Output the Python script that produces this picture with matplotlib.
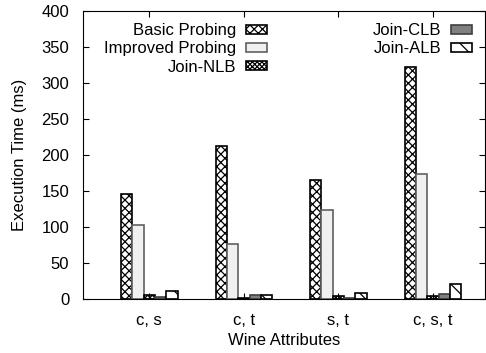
import matplotlib.pyplot as plt
import numpy as np
from matplotlib.patches import Patch

groups = ['c, s', 'c, t', 's, t', 'c, s, t']
basic = [146, 212, 165, 322]
improved = [103, 77, 123, 173]
nlb = [6, 2, 4, 4]
clb = [3, 6, 2, 7]
alb = [11, 6, 9, 21]

plt.rcParams['font.family'] = 'Liberation Sans'
plt.rcParams['font.size'] = 12
plt.rcParams['hatch.linewidth'] = 0.9

fig = plt.figure(figsize=(4.86, 3.53), dpi=100)
ax = fig.add_axes([0.171, 0.153, 0.827, 0.816])

x = np.arange(len(groups))
w = 0.12
styles = [
    ('Basic Probing', basic, dict(facecolor='white', edgecolor='black', hatch='xxxx')),
    ('Improved Probing', improved, dict(facecolor='#f0f0f0', edgecolor='#606060')),
    ('Join-NLB', nlb, dict(facecolor='white', edgecolor='black', hatch='xxxxxxx')),
    ('Join-CLB', clb, dict(facecolor='#808080', edgecolor='#404040')),
    ('Join-ALB', alb, dict(facecolor='white', edgecolor='black', hatch='\\\\')),
]
handles = []
for i, (name, vals, st) in enumerate(styles):
    ax.bar(x + (i - 2) * w, vals, w, linewidth=1.2, **st)
    handles.append(Patch(linewidth=1.2, label=name, **st))

ax.set_xlim(-0.7, 3.55)
ax.set_ylim(0, 400)
ax.set_yticks(range(0, 401, 50))
ax.set_xticks(x)
ax.set_xticklabels(groups)
ax.tick_params(direction='in', top=True, right=True, length=4)
ax.tick_params(axis='x', pad=10)
ax.tick_params(axis='y', pad=10)
ax.set_xlabel('Wine Attributes', labelpad=4)
ax.set_ylabel('Execution Time (ms)', labelpad=10)

leg_kw = dict(markerfirst=False, frameon=False, handlelength=1.25, handleheight=0.45,
              labelspacing=0.2, handletextpad=0.6, borderaxespad=0, borderpad=0)
leg1 = ax.legend(handles=handles[:3], loc='upper right', bbox_to_anchor=(0.458, 0.958), **leg_kw)
ax.add_artist(leg1)
ax.legend(handles=handles[3:], loc='upper right', bbox_to_anchor=(0.968, 0.958), **leg_kw)

fig.savefig('out.png', dpi=100)
